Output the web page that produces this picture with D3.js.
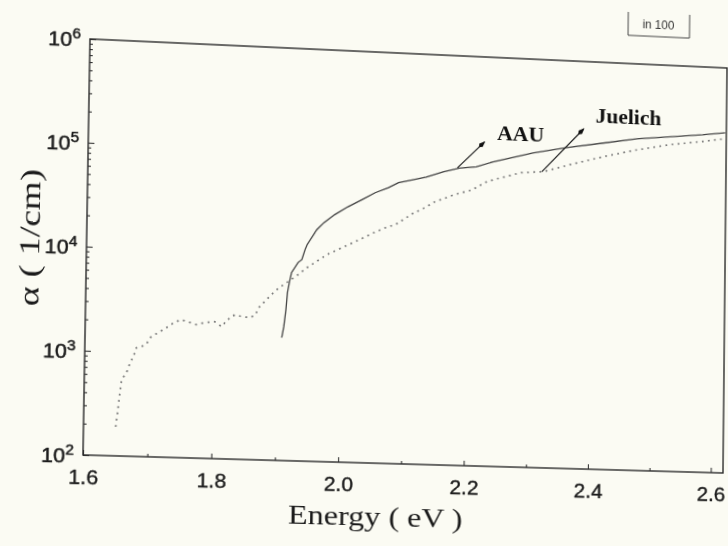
<!DOCTYPE html>
<html>
<head>
<meta charset="utf-8">
<script src="https://cdn.jsdelivr.net/npm/d3@7"></script>
<style>
  body { margin: 0; background: #fbfbf3; }
  #page { position: relative; width: 728px; height: 546px; overflow: hidden; background: #fbfbf3; }
  #chart { position: absolute; left: 0; top: 0; transform-origin: 0 0; overflow: visible; }
</style>
</head>
<body>
<div id="page"><svg id="chart"></svg></div>
<script>
// absorption coefficient alpha (1/cm) vs photon energy (eV)
let aauEnergy = [1.908, 1.911, 1.914, 1.916, 1.919, 1.922, 1.932, 1.938, 1.943, 1.946, 1.961, 1.972, 1.989,
                 2.010, 2.032, 2.053, 2.074, 2.090, 2.113, 2.134, 2.161, 2.187, 2.214, 2.241, 2.305, 2.358,
                 2.421, 2.474, 2.528, 2.581, 2.618]
let aauAlpha = [1540, 1970, 2880, 4220, 5400, 6610, 8320, 8910, 11200, 12500, 17600, 20700, 25000,
                30200, 35800, 42400, 48000, 54200, 58600, 63100, 72100, 79400, 83200, 94400, 120000, 139000,
                161000, 182000, 197000, 213000, 228000]

let juelichEnergy = [1.650, 1.653, 1.655, 1.658, 1.666, 1.671, 1.676, 1.680, 1.687, 1.695, 1.703, 1.717, 1.727,
                     1.738, 1.749, 1.759, 1.773, 1.786, 1.802, 1.813, 1.822, 1.834, 1.845, 1.858, 1.866, 1.871,
                     1.883, 1.894, 1.903, 1.914, 1.930, 1.946, 1.978, 2.021, 2.053, 2.074, 2.085, 2.116, 2.127,
                     2.148, 2.180, 2.207, 2.232, 2.286, 2.323, 2.366, 2.419, 2.472, 2.526, 2.579, 2.620]
let juelichAlpha = [190, 275, 370, 537, 646, 794, 910, 1100, 1135, 1190, 1430, 1610, 1770,
                    1980, 2130, 2050, 1930, 2030, 2090, 1880, 2200, 2480, 2380, 2350, 2510, 2950,
                    3550, 4170, 4680, 5250, 6170, 7460, 10200, 13800, 17400, 20000, 20900, 28200, 30200,
                    36300, 43600, 49000, 60300, 75900, 79400, 95500, 117500, 141000, 164000, 182000, 200000]

let xTicks = [1.6, 1.8, 2.0, 2.2, 2.4, 2.6]
let xMinorTicks = [1.7, 1.9, 2.1, 2.3, 2.5]
let yTicks = [1e2, 1e3, 1e4, 1e5, 1e6]
let yTickExp = ['2', '3', '4', '5', '6']

// labels with their arrows: [energy, alpha]
let aauLabel = [2.247, 155000]
let aauArrow = [[2.184, 80000], [2.227, 147000]]
let juelichLabel = [2.406, 251000]
let juelichArrow = [[2.320, 79000], [2.387, 217000]]

let width = 640
let height = 416
let ox = 110
let oy = 70

let svg = d3.select('#chart')
            .attr('width', 900)
            .attr('height', 620)

let g = svg.append('g').attr('transform', 'translate(' + ox + ',' + oy + ')')

let xScale = d3.scaleLinear().domain([1.6, 2.62]).range([0, width])
let yScale = d3.scaleLog().domain([1e2, 1e6]).range([height, 0])

let yMinorTicks = []
for (let d = 2; d < 6; d++) {
    for (let m = 2; m <= 9; m++) yMinorTicks.push(m * Math.pow(10, d))
}

// the scanned page is slightly skewed, so the whole drawing gets a projective warp
let solveHomography = (src, dst) => {
    let A = [], B = []
    src.forEach((s, i) => {
        let x = s[0], y = s[1], u = dst[i][0], v = dst[i][1]
        A.push([x, y, 1, 0, 0, 0, -u * x, -u * y]); B.push(u)
        A.push([0, 0, 0, x, y, 1, -v * x, -v * y]); B.push(v)
    })
    for (let c = 0; c < 8; c++) {
        let p = c
        for (let r = c + 1; r < 8; r++) if (Math.abs(A[r][c]) > Math.abs(A[p][c])) p = r
        let t = A[c]; A[c] = A[p]; A[p] = t
        let tb = B[c]; B[c] = B[p]; B[p] = tb
        for (let r = 0; r < 8; r++) {
            if (r === c) continue
            let f = A[r][c] / A[c][c]
            for (let k = c; k < 8; k++) A[r][k] -= f * A[c][k]
            B[r] -= f * B[c]
        }
    }
    return B.map((b, i) => b / A[i][i])
}

let h = solveHomography(
    [[ox, oy], [ox + width, oy], [ox, oy + height], [ox + width, oy + height]],
    [[90, 39], [727, 68], [83, 455], [723, 473]]
)
svg.style('transform', 'matrix3d(' + [h[0], h[3], 0, h[6], h[1], h[4], 0, h[7], 0, 0, 1, 0, h[2], h[5], 0, 1].join(',') + ')')

// axes
let xAxis = d3.axisBottom(xScale).tickValues(xTicks).tickSize(-5).tickSizeOuter(0).tickPadding(14)
              .tickFormat(d3.format('.1f'))
let xAxisMinor = d3.axisBottom(xScale).tickValues(xMinorTicks).tickSize(-3).tickSizeOuter(0).tickFormat('')
let yAxis = d3.axisLeft(yScale).tickValues(yTicks).tickSize(-6).tickSizeOuter(0).tickPadding(9)
let yAxisMinor = d3.axisLeft(yScale).tickValues(yMinorTicks).tickSize(-3).tickSizeOuter(0).tickFormat('')

g.append('g').attr('transform', 'translate(0,' + height + ')').call(xAxisMinor)
let gx = g.append('g').attr('id', 'x-axis').attr('transform', 'translate(0,' + height + ')').call(xAxis)
g.append('g').call(yAxisMinor)
let gy = g.append('g').attr('id', 'y-axis').call(yAxis)

g.selectAll('.domain').remove()
g.selectAll('.tick line').attr('stroke', '#333').attr('stroke-width', 1.1)

gx.selectAll('.tick text')
  .attr('font-family', 'Liberation Sans, Arial, sans-serif')
  .attr('font-size', 21)
  .attr('fill', '#1c1c1c')
  .attr('stroke', '#1c1c1c')
  .attr('stroke-width', 0.4)

gy.selectAll('.tick text')
  .text('')
  .attr('font-family', 'Liberation Sans, Arial, sans-serif')
  .attr('font-size', 21)
  .attr('fill', '#1c1c1c')
  .attr('stroke', '#1c1c1c')
  .attr('stroke-width', 0.5)
  .attr('dy', '0.38em')
  .each(function(d, i) {
      let t = d3.select(this)
      t.append('tspan').text('10')
      t.append('tspan').attr('dy', -8).attr('font-size', 15).text(yTickExp[i])
  })

// frame
g.append('rect')
 .attr('x', 0).attr('y', 0)
 .attr('width', width).attr('height', height)
 .attr('fill', 'none')
 .attr('stroke', '#2a2a2a')
 .attr('stroke-width', 1.4)

let line = d3.line()
             .x((d) => xScale(d[0]))
             .y((d) => yScale(d[1]))

g.append('path')
 .datum(juelichEnergy.map((e, i) => [e, juelichAlpha[i]]))
 .attr('d', line)
 .attr('fill', 'none')
 .attr('stroke', '#777')
 .attr('stroke-width', 1.7)
 .attr('stroke-dasharray', '1.8,4.5')

g.append('path')
 .datum(aauEnergy.map((e, i) => [e, aauAlpha[i]]))
 .attr('d', line)
 .attr('fill', 'none')
 .attr('stroke', '#444')
 .attr('stroke-width', 1.3)

// annotation arrows
svg.append('defs').append('marker')
   .attr('id', 'head')
   .attr('viewBox', '0 -3 9 6')
   .attr('refX', 8)
   .attr('refY', 0)
   .attr('markerWidth', 9)
   .attr('markerHeight', 6)
   .attr('markerUnits', 'userSpaceOnUse')
   .attr('orient', 'auto')
   .append('path')
   .attr('d', 'M0,0 L3,-2.4 L9,0 L3,2.4 Z')
   .attr('fill', '#111')

let arrows = [aauArrow, juelichArrow]
g.selectAll('.arrow')
 .data(arrows)
 .enter()
 .append('line')
 .attr('class', 'arrow')
 .attr('x1', (d) => xScale(d[0][0]))
 .attr('y1', (d) => yScale(d[0][1]))
 .attr('x2', (d) => xScale(d[1][0]))
 .attr('y2', (d) => yScale(d[1][1]))
 .attr('stroke', '#222')
 .attr('stroke-width', 1.2)
 .attr('marker-end', 'url(#head)')

let labels = [['AAU', aauLabel], ['Juelich', juelichLabel]]
g.selectAll('.series-label')
 .data(labels)
 .enter()
 .append('text')
 .attr('class', 'series-label')
 .attr('x', (d) => xScale(d[1][0]))
 .attr('y', (d) => yScale(d[1][1]))
 .attr('font-family', 'Liberation Serif, Times New Roman, serif')
 .attr('font-weight', 'bold')
 .attr('font-size', 22)
 .attr('fill', '#111')
 .text((d) => d[0])

// axis titles
g.append('text')
 .attr('x', 289)
 .attr('y', height + 63)
 .attr('text-anchor', 'middle')
 .attr('font-family', 'Liberation Serif, Times New Roman, serif')
 .attr('font-size', 28)
 .attr('fill', '#1a1a1a')
 .attr('textLength', 174)
 .attr('lengthAdjust', 'spacingAndGlyphs')
 .text('Energy ( eV )')

g.append('text')
 .attr('transform', 'translate(-46,201) rotate(-90)')
 .attr('text-anchor', 'middle')
 .attr('font-family', 'Liberation Serif, Times New Roman, serif')
 .attr('font-size', 28)
 .attr('fill', '#1a1a1a')
 .attr('textLength', 137)
 .attr('lengthAdjust', 'spacingAndGlyphs')
 .text('α ( 1/cm)')

// little "in 100" tag above the frame
let tag = g.append('g').attr('transform', 'translate(538,-53)')
tag.append('path')
   .attr('d', 'M0,0 L0,24 L63,24 L63,0')
   .attr('fill', 'none')
   .attr('stroke', '#444')
   .attr('stroke-width', 1)
tag.append('text')
   .attr('x', 31)
   .attr('y', 16)
   .attr('text-anchor', 'middle')
   .attr('font-family', 'Liberation Sans, Arial, sans-serif')
   .attr('font-size', 12)
   .attr('fill', '#333')
   .text('in 100')
</script>
</body>
</html>
